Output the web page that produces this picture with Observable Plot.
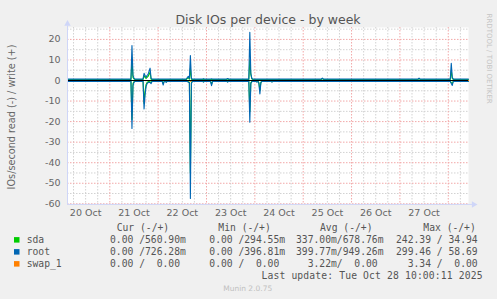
<!DOCTYPE html>
<html><head><meta charset="utf-8">
<script src="https://cdn.jsdelivr.net/npm/d3@7"></script>
<script src="https://cdn.jsdelivr.net/npm/@observablehq/plot@0.6"></script>
<style>
html,body{margin:0;padding:0;background:#f0f0f0;}
#chart{width:497px;height:299px;background:#f0f0f0;overflow:hidden;}
#chart svg{display:block;}
</style></head><body><div id="chart"></div>
<script>
// ---- data (read values are shown below zero, write values above) ----
const times = [
"2025-10-20T03:00","2025-10-21T10:30","2025-10-21T11:00","2025-10-21T11:30","2025-10-21T12:00","2025-10-21T12:30","2025-10-21T16:30","2025-10-21T17:00","2025-10-21T17:30","2025-10-21T18:00",
"2025-10-21T18:30","2025-10-21T19:00","2025-10-21T19:30","2025-10-21T20:00","2025-10-21T20:30","2025-10-21T21:00","2025-10-22T02:00","2025-10-22T02:30","2025-10-22T03:00","2025-10-22T03:30",
"2025-10-22T04:00","2025-10-22T04:30","2025-10-22T14:00","2025-10-22T14:30","2025-10-22T15:00","2025-10-22T15:30","2025-10-22T16:00","2025-10-22T16:30","2025-10-22T17:00","2025-10-22T22:00",
"2025-10-22T22:30","2025-10-22T23:00","2025-10-23T02:00","2025-10-23T02:30","2025-10-23T03:00","2025-10-23T10:00","2025-10-23T10:30","2025-10-23T11:00","2025-10-23T21:00","2025-10-23T21:30",
"2025-10-23T22:00","2025-10-23T22:30","2025-10-23T23:00","2025-10-24T00:30","2025-10-24T01:00","2025-10-24T01:30","2025-10-24T02:00","2025-10-24T02:30","2025-10-24T03:00","2025-10-24T03:30",
"2025-10-24T08:00","2025-10-24T08:30","2025-10-24T09:00","2025-10-25T09:00","2025-10-25T09:30","2025-10-25T10:00","2025-10-27T09:00","2025-10-27T09:30","2025-10-27T10:00","2025-10-28T01:00",
"2025-10-28T01:30","2025-10-28T02:00","2025-10-28T02:30","2025-10-28T10:00"
];
const sdaRead = [
0.3,0.3,19,1.5,0.6,0.3,0.3,11,5,2,
1,0.5,0.5,0.6,1,0.3,0.3,1.5,0.3,0.3,
0.6,0.3,0.3,0.4,0.6,0.8,45,1,0.3,0.3,
0.6,0.3,0.3,1.8,0.3,0.3,0.6,0.3,0.3,15,
1,0.4,0.3,0.3,0.6,0.3,1,5,0.8,0.3,
0.3,0.6,0.3,0.3,0.3,0.3,0.3,0.3,0.3,0.3,
1,1.5,0.3,0.3];
const sdaWrite = [
0.5,0.5,10,1.5,0.8,0.5,0.5,2.5,1.5,1,
1.5,2,3,4,0.6,0.5,0.5,0.5,0.5,0.5,
0.5,0.5,0.5,1,1.5,0.6,6,0.6,0.5,0.5,
0.6,0.5,0.5,0.5,0.5,0.5,0.8,0.5,0.5,10,
3,0.8,0.5,0.5,0.5,0.5,0.5,0.5,0.5,0.5,
0.5,0.5,0.5,0.5,1,0.5,0.5,1,0.5,0.5,
5,1,0.5,0.5];
const rootRead = [
0.4,0.4,23.3,2.5,0.9,0.4,0.4,13.8,7,3,
1.5,1,0.8,1,1.5,0.4,0.4,2.2,0.4,0.4,
0.9,0.4,0.4,0.5,0.8,1,57.4,1.5,0.4,0.4,
0.8,0.4,0.4,2.5,0.4,0.4,0.8,0.4,0.4,20.3,
1.5,0.6,0.4,0.4,0.8,0.4,1.5,6.5,1,0.4,
0.4,0.8,0.4,0.4,0.4,0.4,0.4,0.4,0.4,0.4,
1.5,2.4,0.4,0.4];
const rootWrite = [
0.7,0.7,17,2.5,1.2,0.7,0.7,3.5,2.5,1.5,
2.5,3,4.5,6,1,0.7,0.7,0.7,0.7,0.7,
0.7,0.7,0.7,1.5,2,1,12.2,1,0.7,0.7,
0.9,0.7,0.7,0.8,0.7,0.7,1,0.7,0.7,23.5,
3.5,1,0.7,0.7,0.7,0.7,0.7,0.7,0.7,0.7,
0.7,0.7,0.7,0.7,1.2,0.7,0.7,1.2,0.7,0.7,
8.4,1.5,0.7,0.7];
const swapRead = [
0,0,0,0,0,0,0,0,0,0,
0,0,0,0,0,0,0,0,0,0,
0,0,0,0,0,0,0.4,0,0,0,
0,0,0,0,0,0,0,0,0,0,
0,0,0,0,0,0,0,0,0,0,
0,0,0,0,0,0,0,0,0,0,
0,0,0,0];
const swapWrite = swapRead.map(() => 0);

const seriesNames = ["sda", "root", "swap_1"];
const seriesColors = ["#00cc00", "#0066b3", "#ff8000"];
const yTicks = [-60, -50, -40, -30, -20, -10, 0, 10, 20];
const yMinorTicks = [-55, -45, -35, -25, -15, -5, 5, 15, 25];
const dayLabels = ["2025-10-20T12:00","2025-10-21T12:00","2025-10-22T12:00","2025-10-23T12:00","2025-10-24T12:00","2025-10-25T12:00","2025-10-26T12:00","2025-10-27T12:00"];
const timeDomain = ["2025-10-20T03:00", "2025-10-28T10:03"];

const legendHeaders = ["Cur (-/+)", "Min (-/+)", "Avg (-/+)", "Max (-/+)"];
const legendCur = ["0.00 /560.90m", "0.00 /726.28m", "0.00 /  0.00"];
const legendMin = ["0.00 /294.55m", "0.00 /396.81m", "0.00 /  0.00"];
const legendAvg = ["337.00m/678.76m", "399.77m/949.26m", "  3.22m/  0.00"];
const legendMax = ["242.39 / 34.94", "299.46 / 58.69", "  3.34 /  0.00"];
const lastUpdate = "Last update: Tue Oct 28 10:00:11 2025";
const footer = "Munin 2.0.75";
const title = "Disk IOs per device - by week";
const yLabel = "IOs/second read (-) / write (+)";
const sideText = "RRDTOOL / TOBI OETIKER";

// ---- build ----
const parse = d3.utcParse("%Y-%m-%dT%H:%M");
const seriesData = [
  {name: "sda", read: sdaRead, write: sdaWrite},
  {name: "root", read: rootRead, write: rootWrite},
  {name: "swap_1", read: swapRead, write: swapWrite}
];
const rows = [];
for (const s of seriesData) {
  times.forEach((t, i) => rows.push({series: s.name, key: s.name + "-r", t: parse(t), v: -s.read[i]}));
  times.forEach((t, i) => rows.push({series: s.name, key: s.name + "-w", t: parse(t), v: s.write[i]}));
}
const x0 = parse(timeDomain[0]), x1 = parse(timeDomain[1]);
const hour = 3600e3;
const xMajor = d3.utcDay.range(d3.utcDay.ceil(x0), x1);
const xMinor = d3.utcHour.every(6).range(d3.utcHour.ceil(x0), x1).filter(d => d.getUTCHours() !== 0);
const axisColor = "#cfd6f8";

const plot = Plot.plot({
  width: 497, height: 220,
  marginLeft: 67, marginRight: 29, marginTop: 27, marginBottom: 16.7,
  style: {fontFamily: "DejaVu Sans", fontSize: "9.5px", color: "#666", background: "transparent", overflow: "visible"},
  x: {type: "utc", domain: [x0, x1], ticks: dayLabels.map(parse), tickFormat: d3.utcFormat("%d %b"), tickSize: 0, tickPadding: 5, label: null},
  y: {domain: [-60, 25.8], ticks: yTicks, tickFormat: d => `${d}`, tickSize: 0, tickPadding: 7, label: null},
  color: {domain: seriesNames, range: seriesColors},
  marks: [
    Plot.frame({fill: "white", stroke: null}),
    Plot.ruleY(yMinorTicks, {stroke: "#d2d2d2", strokeDasharray: "1.5,1.5"}),
    Plot.ruleX(xMinor, {stroke: "#d2d2d2", strokeDasharray: "1.5,1.5"}),
    Plot.ruleY(yTicks, {stroke: "#f2a8a8", strokeDasharray: "1.5,1.5"}),
    Plot.ruleX(xMajor, {stroke: "#f2a8a8", strokeDasharray: "1.5,1.5"}),
    Plot.line(rows, {x: "t", y: "v", z: "key", stroke: "series", strokeWidth: 1.1}),
    Plot.ruleY([0], {stroke: "#000", strokeWidth: 1}),
    Plot.ruleX([x0], {y1: () => -60.3, y2: () => 26.5, stroke: axisColor}),
    Plot.ruleY([-60.3], {x1: () => x0, x2: () => new Date(+x1 + 2.3 * hour), stroke: axisColor}),
    Plot.dot([x0], {x: d => d, y: () => 27.6, symbol: "triangle", r: 2.4, fill: axisColor, stroke: null}),
    Plot.dot([x1], {x: () => new Date(+x1 + 2.6 * hour), y: () => -60.3, symbol: "triangle", rotate: 90, r: 2.4, fill: axisColor, stroke: null}),
    Plot.text([title], {text: d => d, frameAnchor: "top", lineAnchor: "bottom", dy: -3.5, fontSize: 12.5, fill: "#555"}),
    Plot.text([yLabel], {text: d => d, frameAnchor: "left", textAnchor: "middle", rotate: -90, dx: -55.5, dy: 1.3, fontSize: 9.7, fill: "#666"}),
    Plot.text([sideText], {text: d => d, frameAnchor: "right", textAnchor: "middle", rotate: 90, dx: 20.5, dy: -57, fontSize: 7, fill: "#c4c4c4", textLength: 86})
  ]
});
document.getElementById("chart").appendChild(plot);

// ---- legend ----
const leg = d3.create("svg").attr("width", 497).attr("height", 79)
  .style("font-family", "DejaVu Sans Mono").style("font-size", "9.7px");
const base = 220;
const rowY = [243.3, 255.3, 267.3].map(v => v - base);
const headerY = 231.3 - base;
const headerX = [116.7, 218.3, 320, 423.3];
legendHeaders.forEach((h, i) => leg.append("text").attr("x", headerX[i]).attr("y", headerY).attr("fill", "#555").style("white-space", "pre").text(h));
const colX = [110, 209.3, 296, 396];
seriesNames.forEach((n, i) => {
  leg.append("rect").attr("x", 14).attr("y", rowY[i] - 6.2).attr("width", 5.5).attr("height", 5.5).attr("fill", seriesColors[i]);
  leg.append("text").attr("x", 26.7).attr("y", rowY[i]).attr("fill", "#555").text(n);
  [legendCur, legendMin, legendAvg, legendMax].forEach((col, j) =>
    leg.append("text").attr("x", colX[j]).attr("y", rowY[i]).attr("fill", "#555").style("white-space", "pre").text(col[i]));
});
leg.append("text").attr("x", 261.5).attr("y", 279.3 - base).attr("fill", "#555").attr("textLength", 221).text(lastUpdate);
leg.append("text").attr("x", 247.7).attr("y", 290.6 - base).attr("text-anchor", "middle").attr("fill", "#c0c0c0")
  .style("font-family", "DejaVu Sans").style("font-size", "7.5px").text(footer);
document.getElementById("chart").appendChild(leg.node());
</script></body></html>
